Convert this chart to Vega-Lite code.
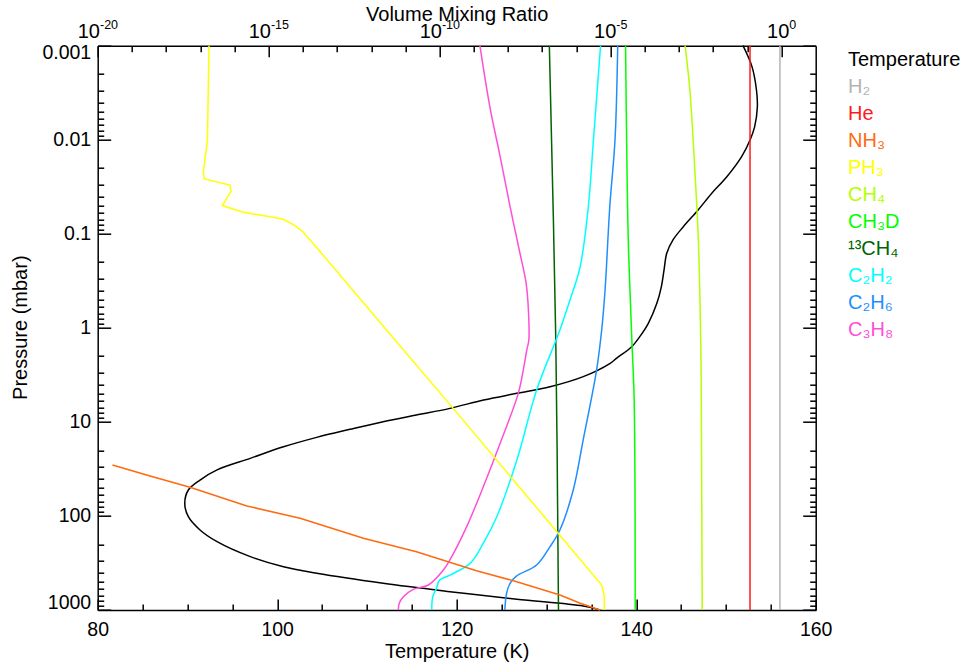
{
  "$schema": "https://vega.github.io/schema/vega-lite/v6.json",
  "width": 718,
  "height": 564.3,
  "autosize": {"type": "none"},
  "padding": {"left": 97.7, "top": 45.7, "right": 150.3, "bottom": 56},
  "background": "white",
  "config": {
    "view": {"stroke": null},
    "axis": {
      "grid": false,
      "domainColor": "#000000",
      "domainWidth": 1.5,
      "tickColor": "#000000",
      "tickWidth": 1.5,
      "labelColor": "#000000",
      "titleColor": "#000000",
      "labelFont": "Liberation Sans",
      "titleFont": "Liberation Sans",
      "labelFontSize": 19.5,
      "titleFontSize": 20,
      "titleFontWeight": "normal",
      "labelOverlap": false,
      "labelFlush": false,
      "labelBound": false
    },
    "legend": {
      "orient": "none",
      "legendX": 730.3,
      "legendY": 1,
      "title": null,
      "symbolSize": 0,
      "symbolStrokeWidth": 0,
      "symbolOpacity": 0,
      "labelOffset": 0,
      "padding": 0,
      "rowPadding": 0,
      "clipHeight": 26.9,
      "labelFont": "Liberation Sans",
      "labelFontSize": 20,
      "labelLimit": 300
    }
  },
  "datasets": {
    "temp": [
      {"s": "Temperature", "p": 0.001, "T": 151.9},
      {"s": "Temperature", "p": 0.00167, "T": 152.9},
      {"s": "Temperature", "p": 0.00296, "T": 153.4},
      {"s": "Temperature", "p": 0.00446, "T": 153.5},
      {"s": "Temperature", "p": 0.00726, "T": 153.2},
      {"s": "Temperature", "p": 0.01, "T": 152.7},
      {"s": "Temperature", "p": 0.0151, "T": 151.75},
      {"s": "Temperature", "p": 0.0247, "T": 150.1},
      {"s": "Temperature", "p": 0.0372, "T": 148.4},
      {"s": "Temperature", "p": 0.0558, "T": 146.9},
      {"s": "Temperature", "p": 0.0841, "T": 145.25},
      {"s": "Temperature", "p": 0.116, "T": 144.1},
      {"s": "Temperature", "p": 0.161, "T": 143.4},
      {"s": "Temperature", "p": 0.243, "T": 143.1},
      {"s": "Temperature", "p": 0.366, "T": 142.8},
      {"s": "Temperature", "p": 0.548, "T": 142.3},
      {"s": "Temperature", "p": 0.895, "T": 141.35},
      {"s": "Temperature", "p": 1.24, "T": 140.4},
      {"s": "Temperature", "p": 1.585, "T": 139.5},
      {"s": "Temperature", "p": 2.11, "T": 137.8},
      {"s": "Temperature", "p": 2.38, "T": 137.1},
      {"s": "Temperature", "p": 3.3, "T": 134.1},
      {"s": "Temperature", "p": 4.23, "T": 130.4},
      {"s": "Temperature", "p": 4.97, "T": 126.7},
      {"s": "Temperature", "p": 5.85, "T": 123.0},
      {"s": "Temperature", "p": 7.18, "T": 119.25},
      {"s": "Temperature", "p": 8.45, "T": 115.5},
      {"s": "Temperature", "p": 9.95, "T": 111.8},
      {"s": "Temperature", "p": 12.0, "T": 108.1},
      {"s": "Temperature", "p": 14.6, "T": 104.4},
      {"s": "Temperature", "p": 18.4, "T": 100.7},
      {"s": "Temperature", "p": 24.4, "T": 97.0},
      {"s": "Temperature", "p": 32.4, "T": 93.3},
      {"s": "Temperature", "p": 41.5, "T": 91.4},
      {"s": "Temperature", "p": 53.0, "T": 90.1},
      {"s": "Temperature", "p": 73.3, "T": 89.7},
      {"s": "Temperature", "p": 101.9, "T": 90.1},
      {"s": "Temperature", "p": 140.9, "T": 91.4},
      {"s": "Temperature", "p": 187.9, "T": 93.3},
      {"s": "Temperature", "p": 271, "T": 97.0},
      {"s": "Temperature", "p": 347, "T": 100.7},
      {"s": "Temperature", "p": 407, "T": 104.4},
      {"s": "Temperature", "p": 520, "T": 111.8},
      {"s": "Temperature", "p": 638, "T": 119.25},
      {"s": "Temperature", "p": 769, "T": 126.7},
      {"s": "Temperature", "p": 908, "T": 134.1},
      {"s": "Temperature", "p": 1000, "T": 136.0}
    ],
    "vmr": [
      {"s": "H₂", "p": 0.001, "v": 0.9},
      {"s": "H₂", "p": 1000, "v": 0.9},
      {"s": "He", "p": 0.001, "v": 0.12},
      {"s": "He", "p": 1000, "v": 0.12},
      {"s": "NH₃", "p": 28.7, "v": 2.7e-20},
      {"s": "NH₃", "p": 37.6, "v": 3.4e-19},
      {"s": "NH₃", "p": 49.5, "v": 5.0e-18},
      {"s": "NH₃", "p": 78.3, "v": 2.3e-16},
      {"s": "NH₃", "p": 105.9, "v": 8.3e-15},
      {"s": "NH₃", "p": 173, "v": 5.9e-13},
      {"s": "NH₃", "p": 240, "v": 2.1e-11},
      {"s": "NH₃", "p": 382, "v": 1.2e-9},
      {"s": "NH₃", "p": 500, "v": 1.8e-8},
      {"s": "NH₃", "p": 692, "v": 3.3e-7},
      {"s": "NH₃", "p": 849, "v": 1.3e-6},
      {"s": "NH₃", "p": 1000, "v": 4.9e-6},
      {"s": "PH₃", "p": 0.001, "v": 1.8e-17},
      {"s": "PH₃", "p": 0.01, "v": 1.62e-17},
      {"s": "PH₃", "p": 0.0219, "v": 1.23e-17},
      {"s": "PH₃", "p": 0.0261, "v": 1.32e-17},
      {"s": "PH₃", "p": 0.0303, "v": 7.4e-17},
      {"s": "PH₃", "p": 0.0356, "v": 7.9e-17},
      {"s": "PH₃", "p": 0.0501, "v": 4.4e-17},
      {"s": "PH₃", "p": 0.059, "v": 1.8e-16},
      {"s": "PH₃", "p": 0.0697, "v": 2.6e-15},
      {"s": "PH₃", "p": 0.082, "v": 5.9e-15},
      {"s": "PH₃", "p": 0.0951, "v": 1.0e-14},
      {"s": "PH₃", "p": 0.146, "v": 2.8e-14},
      {"s": "PH₃", "p": 1.054, "v": 2.8e-12},
      {"s": "PH₃", "p": 7.18, "v": 2.5e-10},
      {"s": "PH₃", "p": 542, "v": 5.5e-6},
      {"s": "PH₃", "p": 692, "v": 6.5e-6},
      {"s": "PH₃", "p": 1000, "v": 6.6e-6},
      {"s": "CH₄", "p": 0.001, "v": 1.51e-3},
      {"s": "CH₄", "p": 0.00296, "v": 2.09e-3},
      {"s": "CH₄", "p": 0.0227, "v": 2.95e-3},
      {"s": "CH₄", "p": 0.116, "v": 3.7e-3},
      {"s": "CH₄", "p": 2.03, "v": 4.4e-3},
      {"s": "CH₄", "p": 5.85, "v": 4.5e-3},
      {"s": "CH₄", "p": 1000, "v": 4.8e-3},
      {"s": "CH₃D", "p": 0.001, "v": 2.75e-5},
      {"s": "CH₃D", "p": 0.01, "v": 2.95e-5},
      {"s": "CH₃D", "p": 0.116, "v": 3.3e-5},
      {"s": "CH₃D", "p": 1.35, "v": 4.2e-5},
      {"s": "CH₃D", "p": 5.85, "v": 4.9e-5},
      {"s": "CH₃D", "p": 1000, "v": 5.25e-5},
      {"s": "¹³CH₄", "p": 0.001, "v": 1.62e-7},
      {"s": "¹³CH₄", "p": 1.35, "v": 2.5e-7},
      {"s": "¹³CH₄", "p": 1000, "v": 3.0e-7},
      {"s": "C₂H₂", "p": 0.001, "v": 5.1e-6},
      {"s": "C₂H₂", "p": 0.01, "v": 3.16e-6},
      {"s": "C₂H₂", "p": 0.0513, "v": 2.24e-6},
      {"s": "C₂H₂", "p": 0.224, "v": 1.29e-6},
      {"s": "C₂H₂", "p": 0.506, "v": 6.5e-7},
      {"s": "C₂H₂", "p": 1.054, "v": 3.3e-7},
      {"s": "C₂H₂", "p": 4.58, "v": 6.9e-8},
      {"s": "C₂H₂", "p": 25.4, "v": 1.82e-8},
      {"s": "C₂H₂", "p": 102, "v": 4.7e-9},
      {"s": "C₂H₂", "p": 195, "v": 1.9e-9},
      {"s": "C₂H₂", "p": 319, "v": 7.8e-10},
      {"s": "C₂H₂", "p": 425, "v": 2.0e-10},
      {"s": "C₂H₂", "p": 480, "v": 1.0e-10},
      {"s": "C₂H₂", "p": 589, "v": 8.1e-11},
      {"s": "C₂H₂", "p": 723, "v": 6.3e-11},
      {"s": "C₂H₂", "p": 1000, "v": 5.9e-11},
      {"s": "C₂H₆", "p": 0.001, "v": 1.62e-5},
      {"s": "C₂H₆", "p": 0.01, "v": 1.35e-5},
      {"s": "C₂H₆", "p": 0.0513, "v": 9.5e-6},
      {"s": "C₂H₆", "p": 0.398, "v": 6.9e-6},
      {"s": "C₂H₆", "p": 1.054, "v": 5.5e-6},
      {"s": "C₂H₆", "p": 2.81, "v": 3.9e-6},
      {"s": "C₂H₆", "p": 15.6, "v": 1.58e-6},
      {"s": "C₂H₆", "p": 53, "v": 8.1e-7},
      {"s": "C₂H₆", "p": 141, "v": 3.3e-7},
      {"s": "C₂H₆", "p": 212, "v": 1.7e-7},
      {"s": "C₂H₆", "p": 332, "v": 6.9e-8},
      {"s": "C₂H₆", "p": 434, "v": 1.8e-8},
      {"s": "C₂H₆", "p": 520, "v": 1.15e-8},
      {"s": "C₂H₆", "p": 664, "v": 9.1e-9},
      {"s": "C₂H₆", "p": 1000, "v": 8.1e-9},
      {"s": "C₃H₈", "p": 0.001, "v": 1.51e-9},
      {"s": "C₃H₈", "p": 0.00446, "v": 2.95e-9},
      {"s": "C₃H₈", "p": 0.0151, "v": 5.9e-9},
      {"s": "C₃H₈", "p": 0.0513, "v": 1.15e-8},
      {"s": "C₃H₈", "p": 0.161, "v": 2.24e-8},
      {"s": "C₃H₈", "p": 0.336, "v": 3.4e-8},
      {"s": "C₃H₈", "p": 0.7, "v": 4.0e-8},
      {"s": "C₃H₈", "p": 1.35, "v": 4.07e-8},
      {"s": "C₃H₈", "p": 1.72, "v": 3.55e-8},
      {"s": "C₃H₈", "p": 2.81, "v": 2.8e-8},
      {"s": "C₃H₈", "p": 4.97, "v": 2.0e-8},
      {"s": "C₃H₈", "p": 16.9, "v": 5.9e-9},
      {"s": "C₃H₈", "p": 48.9, "v": 1.9e-9},
      {"s": "C₃H₈", "p": 130, "v": 6.2e-10},
      {"s": "C₃H₈", "p": 294, "v": 2.0e-10},
      {"s": "C₃H₈", "p": 376, "v": 1.29e-10},
      {"s": "C₃H₈", "p": 542, "v": 4.7e-11},
      {"s": "C₃H₈", "p": 603, "v": 1.7e-11},
      {"s": "C₃H₈", "p": 723, "v": 8.7e-12},
      {"s": "C₃H₈", "p": 849, "v": 6.6e-12},
      {"s": "C₃H₈", "p": 1000, "v": 6.2e-12}
    ]
  },
  "layer": [
    {
      "data": {"name": "temp"},
      "mark": {"type": "line", "interpolate": "catmull-rom", "strokeWidth": 1.5},
      "encoding": {
        "x": {
          "field": "T", "type": "quantitative",
          "scale": {"domain": [80, 160], "nice": false, "zero": false},
          "axis": {
            "orient": "bottom", "values": [80, 100, 120, 140, 160],
            "ticks": false, "labelPadding": 10.6,
            "title": "Temperature (K)", "titleX": 359, "titleY": 41, "titleBaseline": "middle", "titleAlign": "center"
          }
        },
        "y": {
          "field": "p", "type": "quantitative",
          "scale": {"type": "log", "domain": [0.001, 1000], "reverse": true, "nice": false},
          "axis": {
            "orient": "left", "values": [0.001, 0.01, 0.1, 1, 10, 100, 1000], "format": "~g",
            "ticks": false, "labelPadding": 7, "labelFlush": true, "labelFlushOffset": 2,
            "title": "Pressure (mbar)", "titleX": -77.7, "titleY": 281.5, "titleAngle": -90, "titleBaseline": "middle", "titleAlign": "center"
          }
        },
        "color": {
          "field": "s", "type": "nominal",
          "scale": {
            "domain": ["Temperature", "H₂", "He", "NH₃", "PH₃", "CH₄", "CH₃D", "¹³CH₄", "C₂H₂", "C₂H₆", "C₃H₈"],
            "range": ["#000000", "#b4b4b4", "#ff1a1a", "#ff6a10", "#ffff00", "#b4ff00", "#00ff00", "#006400", "#00ffff", "#1e8fff", "#ff4fd8"]
          },
          "legend": {"encode": {"labels": {"update": {"fill": {"scale": "color", "field": "value"}}}}}
        },
        "order": {"field": "p", "type": "quantitative"}
      }
    },
    {
      "data": {"name": "temp"},
      "mark": {"type": "line", "opacity": 0},
      "encoding": {
        "x": {
          "field": "T", "type": "quantitative",
          "scale": {"domain": [80, 160], "nice": false, "zero": false},
          "axis": {"orient": "bottom", "values": [85, 90, 95, 105, 110, 115, 125, 130, 135, 145, 150, 155], "offset": -6, "tickSize": 6, "labels": false, "domain": false, "title": null}
        },
        "y": {
          "field": "p", "type": "quantitative",
          "scale": {"type": "log", "domain": [0.001, 1000], "reverse": true, "nice": false},
          "axis": {"orient": "left", "values": [0.002, 0.003, 0.004, 0.005, 0.006, 0.007, 0.008, 0.009, 0.02, 0.03, 0.04, 0.05, 0.06, 0.07, 0.08, 0.09, 0.2, 0.3, 0.4, 0.5, 0.6, 0.7, 0.8, 0.9, 2, 3, 4, 5, 6, 7, 8, 9, 20, 30, 40, 50, 60, 70, 80, 90, 200, 300, 400, 500, 600, 700, 800, 900], "offset": -6, "tickSize": 6, "labels": false, "domain": false, "title": null}
        },
        "order": {"field": "p", "type": "quantitative"}
      }
    },
    {
      "data": {"name": "temp"},
      "mark": {"type": "line", "opacity": 0},
      "encoding": {
        "x": {
          "field": "T", "type": "quantitative",
          "scale": {"domain": [80, 160], "nice": false, "zero": false},
          "axis": {"orient": "bottom", "values": [80, 100, 120, 140, 160], "offset": -11, "tickSize": 11, "labels": false, "domain": false, "title": null}
        },
        "y": {
          "field": "p", "type": "quantitative",
          "scale": {"type": "log", "domain": [0.001, 1000], "reverse": true, "nice": false},
          "axis": {"orient": "left", "values": [0.001, 0.01, 0.1, 1, 10, 100, 1000], "offset": -13, "tickSize": 13, "labels": false, "domain": false, "title": null}
        },
        "order": {"field": "p", "type": "quantitative"}
      }
    },
    {
      "data": {"name": "temp"},
      "mark": {"type": "line", "opacity": 0},
      "encoding": {
        "x": {"field": "T", "type": "quantitative", "scale": {"domain": [80, 160], "nice": false, "zero": false}, "axis": null},
        "y": {
          "field": "p", "type": "quantitative",
          "scale": {"type": "log", "domain": [0.001, 1000], "reverse": true, "nice": false},
          "axis": {"orient": "right", "values": [0.001, 0.01, 0.1, 1, 10, 100, 1000], "offset": -13, "tickSize": 13, "labels": false, "domain": false, "title": null}
        },
        "order": {"field": "p", "type": "quantitative"}
      }
    },
    {
      "data": {"name": "temp"},
      "mark": {"type": "line", "opacity": 0},
      "encoding": {
        "x": {"field": "T", "type": "quantitative", "scale": {"domain": [80, 160], "nice": false, "zero": false}, "axis": null},
        "y": {
          "field": "p", "type": "quantitative",
          "scale": {"type": "log", "domain": [0.001, 1000], "reverse": true, "nice": false},
          "axis": {"orient": "right", "values": [0.002, 0.003, 0.004, 0.005, 0.006, 0.007, 0.008, 0.009, 0.02, 0.03, 0.04, 0.05, 0.06, 0.07, 0.08, 0.09, 0.2, 0.3, 0.4, 0.5, 0.6, 0.7, 0.8, 0.9, 2, 3, 4, 5, 6, 7, 8, 9, 20, 30, 40, 50, 60, 70, 80, 90, 200, 300, 400, 500, 600, 700, 800, 900], "offset": -6, "tickSize": 6, "labels": false, "domain": false, "title": null}
        },
        "order": {"field": "p", "type": "quantitative"}
      }
    },
    {
      "data": {"name": "temp"},
      "mark": {"type": "line", "opacity": 0},
      "encoding": {
        "x": {"field": "T", "type": "quantitative", "scale": {"domain": [80, 160], "nice": false, "zero": false}, "axis": null},
        "y": {
          "field": "p", "type": "quantitative",
          "scale": {"type": "log", "domain": [0.001, 1000], "reverse": true, "nice": false},
          "axis": {"orient": "right", "values": [0.001, 1000], "ticks": false, "labels": false, "domain": true, "title": null}
        },
        "order": {"field": "p", "type": "quantitative"}
      }
    },
    {
      "data": {"name": "vmr"},
      "transform": [{"filter": {"field": "s", "oneOf": ["H₂", "He", "CH₄", "CH₃D", "¹³CH₄", "C₂H₂", "C₂H₆", "C₃H₈"]}}],
      "mark": {"type": "line", "interpolate": "catmull-rom", "strokeWidth": 1.5},
      "encoding": {
        "x": {
          "field": "v", "type": "quantitative",
          "scale": {"type": "log", "domain": [1e-20, 10], "nice": false},
          "axis": {
            "orient": "top", "values": [1e-20, 1e-15, 1e-10, 1e-5, 1],
            "ticks": false, "labelPadding": 8, "labelBaseline": "alphabetic", "labelAlign": "right", "labelFontSize": 20,
            "labelOffset": {"condition": [{"test": "datum.value > 0.1", "value": 7.3}, {"test": "datum.value > 1e-6", "value": 5.2}], "value": 1.8},
            "labelExpr": "'10'",
            "title": "Volume Mixing Ratio", "titleX": 359, "titleY": -31, "titleBaseline": "middle", "titleAlign": "center"
          }
        },
        "y": {
          "field": "p", "type": "quantitative",
          "scale": {"type": "log", "domain": [0.001, 1000], "reverse": true, "nice": false},
          "axis": null
        },
        "color": {
          "field": "s", "type": "nominal",
          "legend": {"encode": {"labels": {"update": {"fill": {"scale": "color", "field": "value"}}}}}
        },
        "order": {"field": "p", "type": "quantitative"}
      }
    },
    {
      "data": {"name": "vmr"},
      "transform": [{"filter": {"field": "s", "oneOf": ["NH₃", "PH₃"]}}],
      "mark": {"type": "line", "strokeWidth": 1.5},
      "encoding": {
        "x": {
          "field": "v", "type": "quantitative",
          "scale": {"type": "log", "domain": [1e-20, 10], "nice": false},
          "axis": {"orient": "top", "values": [1e-19, 1e-18, 1e-17, 1e-16, 1e-14, 1e-13, 1e-12, 1e-11, 1e-9, 1e-8, 1e-7, 1e-6, 1e-4, 1e-3, 1e-2, 1e-1], "offset": -6, "tickSize": 6, "labels": false, "domain": false, "title": null}
        },
        "y": {
          "field": "p", "type": "quantitative",
          "scale": {"type": "log", "domain": [0.001, 1000], "reverse": true, "nice": false},
          "axis": null
        },
        "color": {
          "field": "s", "type": "nominal",
          "legend": {"encode": {"labels": {"update": {"fill": {"scale": "color", "field": "value"}}}}}
        },
        "order": {"field": "p", "type": "quantitative"}
      }
    },
    {
      "data": {"name": "vmr"},
      "mark": {"type": "line", "opacity": 0},
      "encoding": {
        "x": {
          "field": "v", "type": "quantitative",
          "scale": {"type": "log", "domain": [1e-20, 10], "nice": false},
          "axis": {
            "orient": "top", "values": [1e-20, 1e-15, 1e-10, 1e-5, 1],
            "ticks": false, "domain": false, "title": null,
            "labelPadding": 17.4, "labelBaseline": "alphabetic", "labelAlign": "left", "labelFontSize": 12.5,
            "labelOffset": {"condition": [{"test": "datum.value > 0.1", "value": 7.3}, {"test": "datum.value > 1e-6", "value": 5.2}], "value": 1.8},
            "labelExpr": "datum.value < 1e-17 ? '-20' : (datum.value < 1e-12 ? '-15' : (datum.value < 1e-7 ? '-10' : (datum.value < 1e-2 ? '-5' : '0')))"
          }
        },
        "y": {
          "field": "p", "type": "quantitative",
          "scale": {"type": "log", "domain": [0.001, 1000], "reverse": true, "nice": false},
          "axis": null
        },
        "order": {"field": "p", "type": "quantitative"}
      }
    },
    {
      "data": {"name": "vmr"},
      "mark": {"type": "line", "opacity": 0},
      "encoding": {
        "x": {
          "field": "v", "type": "quantitative",
          "scale": {"type": "log", "domain": [1e-20, 10], "nice": false},
          "axis": {"orient": "top", "values": [1e-20, 1e-15, 1e-10, 1e-5, 1], "offset": -11, "tickSize": 11, "labels": false, "domain": false, "title": null}
        },
        "y": {
          "field": "p", "type": "quantitative",
          "scale": {"type": "log", "domain": [0.001, 1000], "reverse": true, "nice": false},
          "axis": null
        },
        "order": {"field": "p", "type": "quantitative"}
      }
    }
  ],
  "resolve": {"scale": {"x": "independent"}, "axis": {"x": "independent", "y": "independent"}}
}
